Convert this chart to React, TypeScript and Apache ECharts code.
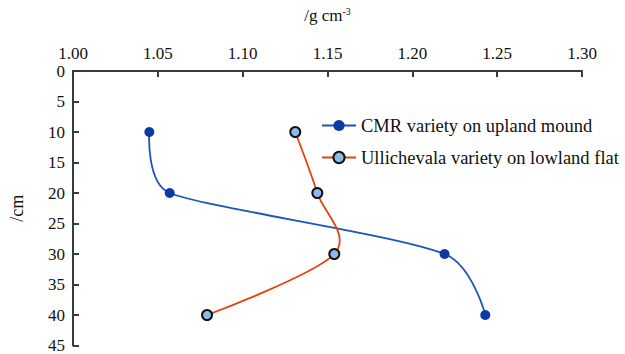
import React, { useEffect, useRef } from "react";
import * as echarts from "echarts";

const depths = [10, 20, 30, 40];
const cmrValues = [1.045, 1.057, 1.219, 1.243];
const ullValues = [1.131, 1.144, 1.154, 1.079];
const seriesNames = ["CMR variety on upland mound", "Ullichevala variety on lowland flat"];
const xTicks = [1.0, 1.3, 0.05];
const yTicks = [0, 45, 5];

const FONT = "Liberation Serif";
const BLUE_LINE = "#1c55b8";
const BLUE_DOT = "#0b3aa7";
const RED_LINE = "#e3420e";
const LIGHT_DOT = "#8dbbe8";

// Smooth path through pixel points (Catmull-Rom style with limited arms)
function smoothPath(pts: number[][]): string {
  const n = pts.length;
  const tan: number[][] = [];
  for (let i = 0; i < n; i++) {
    if (i === 0 || i === n - 1) {
      tan.push([0, 0, 0, 0, 0]);
    } else {
      const vx = pts[i + 1][0] - pts[i - 1][0];
      const vy = pts[i + 1][1] - pts[i - 1][1];
      const len = Math.hypot(vx, vy) || 1;
      const lp = Math.hypot(pts[i][0] - pts[i - 1][0], pts[i][1] - pts[i - 1][1]);
      const ln = Math.hypot(pts[i + 1][0] - pts[i][0], pts[i + 1][1] - pts[i][1]);
      tan.push([vx / len, vy / len, len, lp, ln]);
    }
  }
  let d = `M${pts[0][0]},${pts[0][1]}`;
  for (let i = 0; i < n - 1; i++) {
    const a = pts[i];
    const b = pts[i + 1];
    const seg = Math.hypot(b[0] - a[0], b[1] - a[1]);
    let c1 = [a[0], a[1]];
    let c2 = [b[0], b[1]];
    if (i > 0) {
      const t = tan[i];
      const arm = Math.min(t[2] / 6, 0.4 * seg, 0.6 * Math.min(t[3], t[4]));
      c1 = [a[0] + t[0] * arm, a[1] + t[1] * arm];
    }
    if (i + 1 < n - 1) {
      const t = tan[i + 1];
      const arm = Math.min(t[2] / 6, 0.4 * seg, 0.8 * Math.min(t[3], t[4]));
      c2 = [b[0] - t[0] * arm, b[1] - t[1] * arm];
    }
    d += ` C${c1[0]},${c1[1]} ${c2[0]},${c2[1]} ${b[0]},${b[1]}`;
  }
  return d;
}

function curveSeries(values: number[], color: string) {
  return {
    type: "custom",
    coordinateSystem: "cartesian2d",
    silent: true,
    z: 1,
    data: [[values[0], depths[0]]],
    renderItem: (_params: any, api: any) => {
      const pts = values.map((v, i) => api.coord([v, depths[i]]));
      return {
        type: "path",
        shape: { pathData: smoothPath(pts) },
        style: { stroke: color, lineWidth: 1.8, fill: "none" },
      };
    },
  };
}

export default function App() {
  const ref = useRef<HTMLDivElement>(null);
  useEffect(() => {
    if (!ref.current) return;
    const chart = echarts.init(ref.current, undefined, { renderer: "svg" });
    const axisLine = { show: true, lineStyle: { color: "#3a3a3a", width: 2 } };
    const axisTick = { show: true, inside: true, length: 6, lineStyle: { color: "#3a3a3a", width: 2 } };
    chart.setOption({
      animation: false,
      textStyle: { fontFamily: FONT },
      grid: { left: 63, right: 43, top: 71, bottom: 5 },
      legend: {
        left: 321,
        top: 116,
        padding: 0,
        orient: "vertical",
        itemWidth: 34,
        itemHeight: 14,
        itemGap: 13,
        textStyle: { fontFamily: FONT, fontSize: 18.5, color: "#111" },
        data: [
          { name: seriesNames[0], lineStyle: { color: BLUE_LINE, width: 2, opacity: 1 } },
          { name: seriesNames[1], lineStyle: { color: RED_LINE, width: 2, opacity: 1 } },
        ],
      },
      xAxis: {
        type: "value",
        position: "top",
        min: xTicks[0],
        max: xTicks[1],
        interval: xTicks[2],
        name: "{a|/g cm}{s|-3}",
        nameLocation: "middle",
        nameGap: 46,
        nameTextStyle: {
          fontFamily: FONT,
          rich: {
            a: { fontFamily: FONT, fontSize: 17, color: "#111" },
            s: { fontFamily: FONT, fontSize: 10, color: "#111", verticalAlign: "top", padding: [0, 0, 9, 0] },
          },
        },
        axisLine,
        axisTick,
        axisLabel: {
          fontFamily: FONT,
          fontSize: 17,
          color: "#111",
          margin: 9,
          formatter: (v: number) => v.toFixed(2),
        },
        splitLine: { show: false },
      },
      yAxis: {
        type: "value",
        inverse: true,
        min: yTicks[0],
        max: yTicks[1],
        interval: yTicks[2],
        name: "/cm",
        nameLocation: "middle",
        nameGap: 47,
        nameRotate: 90,
        nameTextStyle: { fontFamily: FONT, fontSize: 18, color: "#111" },
        axisLine,
        axisTick,
        axisLabel: { fontFamily: FONT, fontSize: 17, color: "#111", margin: 8 },
        splitLine: { show: false },
      },
      series: [
        curveSeries(cmrValues, BLUE_LINE),
        curveSeries(ullValues, RED_LINE),
        {
          name: seriesNames[0],
          type: "line",
          z: 3,
          data: cmrValues.map((v, i) => [v, depths[i]]),
          symbol: "circle",
          symbolSize: 10,
          lineStyle: { color: BLUE_LINE, width: 2, opacity: 0 },
          itemStyle: { color: BLUE_DOT, borderColor: BLUE_DOT, borderWidth: 0 },
        },
        {
          name: seriesNames[1],
          type: "line",
          z: 3,
          data: ullValues.map((v, i) => [v, depths[i]]),
          symbol: "circle",
          symbolSize: 10,
          lineStyle: { color: RED_LINE, width: 2, opacity: 0 },
          itemStyle: { color: LIGHT_DOT, borderColor: "#111", borderWidth: 2 },
        },
      ],
    });
    return () => chart.dispose();
  }, []);
  return <div ref={ref} style={{ width: 625, height: 354, position: "absolute", left: 0, top: 0 }} />;
}
